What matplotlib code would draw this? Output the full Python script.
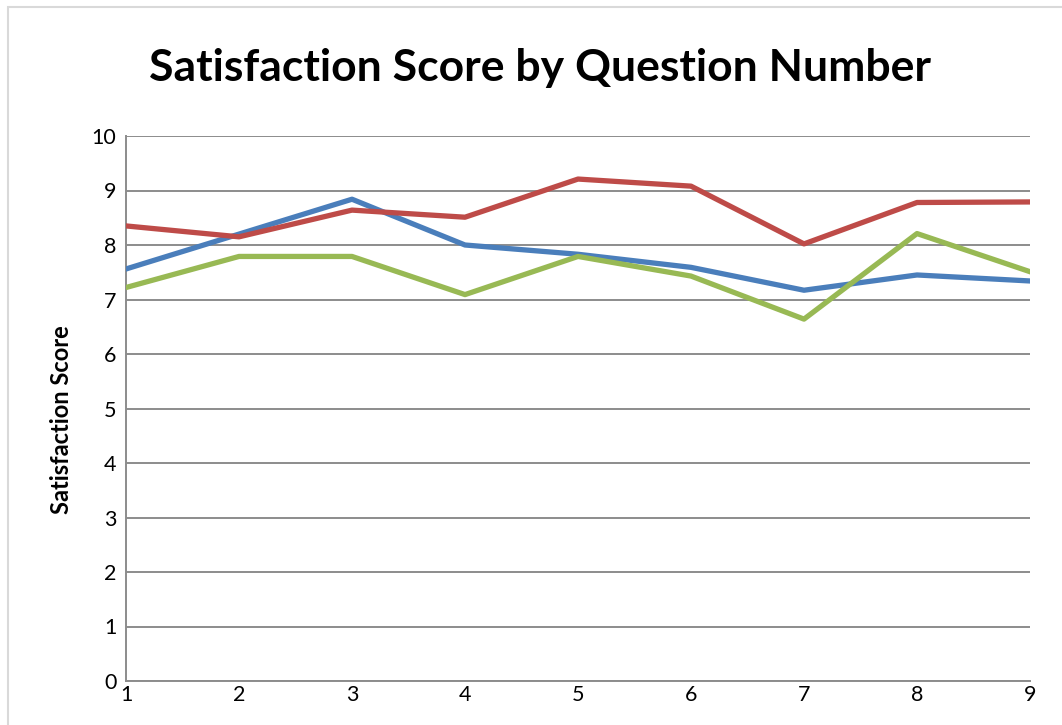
import matplotlib
matplotlib.use('Agg')
import matplotlib.pyplot as plt
from matplotlib.patches import Rectangle

questions = [1, 2, 3, 4, 5, 6, 7, 8, 9]
blue_scores = [7.56, 8.20, 8.84, 8.00, 7.83, 7.59, 7.17, 7.45, 7.34]
red_scores = [8.35, 8.15, 8.64, 8.51, 9.21, 9.08, 8.02, 8.78, 8.79]
green_scores = [7.22, 7.79, 7.79, 7.09, 7.79, 7.43, 6.64, 8.21, 7.51]
y_ticks = [0, 1, 2, 3, 4, 5, 6, 7, 8, 9, 10]

plt.rcParams['font.family'] = ['Lato', 'DejaVu Sans']

fig = plt.figure(figsize=(10.62, 7.25), dpi=100)

# light chart-area border, open to the right and bottom
fig.patches.append(Rectangle((8 / 1062, -0.01), 1.0, (725 - 7) / 725 + 0.01,
                             transform=fig.transFigure, fill=False,
                             edgecolor='#d9d9d9', linewidth=1.5))

ax = fig.add_axes([126 / 1062, 44 / 725, 904 / 1062, 545 / 725])

ax.plot(questions, blue_scores, color='#4A7EBB', linewidth=3.8, solid_joinstyle='round', zorder=3)
ax.plot(questions, red_scores, color='#BE4B48', linewidth=3.8, solid_joinstyle='round', zorder=3)
ax.plot(questions, green_scores, color='#98B954', linewidth=3.8, solid_joinstyle='round', zorder=3)

ax.set_xlim(1, 9)
ax.set_ylim(0, 10)
ax.set_xticks(questions)
ax.set_yticks(y_ticks)
ax.tick_params(length=0, labelsize=15.5)
ax.tick_params(axis='y', pad=7)
ax.tick_params(axis='x', pad=3)

ax.grid(axis='y', color='#8c8c8c', linewidth=1.4)
ax.set_axisbelow(True)
for side in ['top', 'right']:
    ax.spines[side].set_visible(False)
for side in ['left', 'bottom']:
    ax.spines[side].set_color('#8c8c8c')
    ax.spines[side].set_linewidth(1.4)

ax.set_ylabel('Satisfaction Score', fontsize=17, fontweight='bold', va='center')
ax.yaxis.set_label_coords(-0.0708, 0.48)

fig.text(540 / 1062, 1 - 68 / 725, 'Satisfaction Score by Question Number',
         ha='center', va='center', fontsize=32, fontweight='bold')

fig.savefig('out.png', dpi=100)
